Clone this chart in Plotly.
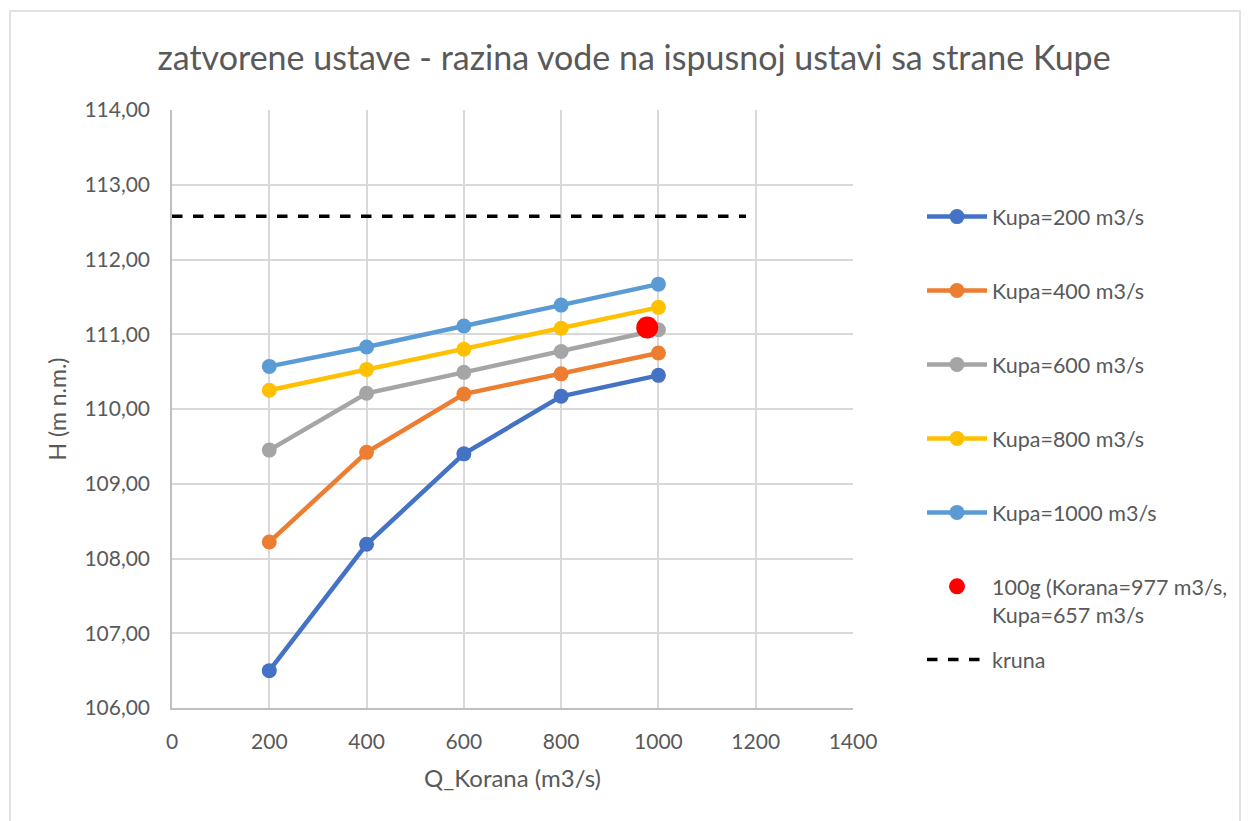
import plotly.graph_objects as go

# Q_Korana (m3/s) on the x axis
korana = [200, 400, 600, 800, 1000]

# water level H (m n.m.) for each Kupa discharge
kupa_200 = [106.50, 108.19, 109.40, 110.17, 110.45]
kupa_400 = [108.22, 109.42, 110.20, 110.47, 110.75]
kupa_600 = [109.45, 110.21, 110.49, 110.77, 111.06]
kupa_800 = [110.25, 110.53, 110.80, 111.08, 111.36]
kupa_1000 = [110.57, 110.83, 111.11, 111.39, 111.67]

series_names = ["Kupa=200 m3/s", "Kupa=400 m3/s", "Kupa=600 m3/s",
                "Kupa=800 m3/s", "Kupa=1000 m3/s"]
series_values = [kupa_200, kupa_400, kupa_600, kupa_800, kupa_1000]
colors = ["#4472C4", "#ED7D31", "#A5A5A5", "#FFC000", "#5B9BD5"]

# 100-year event
event_x = [977]
event_y = [111.09]
event_name = "100g (Korana=977 m3/s,<br>Kupa=657 m3/s"

# crest level
kruna_x = [0, 1180]
kruna_y = [112.58, 112.58]

FONT = "Lato"
GREY = "#595959"

# plot area in figure pixels (page is offset by the 8px body margin)
L, T, PW, PH = 164, 102, 681, 598

fig = go.Figure()
for i, (name, vals) in enumerate(zip(series_names, series_values)):
    fig.add_trace(go.Scatter(
        x=korana, y=vals, name=name, mode="lines+markers",
        line=dict(color=colors[i], width=4.5),
        marker=dict(color=colors[i], size=15),
        legendgroup=str(i),
    ))

fig.add_trace(go.Scatter(
    x=event_x, y=event_y, name=event_name, mode="markers",
    marker=dict(color="#FF0000", size=22),
    legendgroup="5",
))
fig.add_trace(go.Scatter(
    x=kruna_x, y=kruna_y, name="kruna", mode="lines",
    line=dict(color="black", width=3.5, dash="dash"),
    legend="legend2",
))

legend_font = dict(size=21.5, color=GREY, family=FONT)

fig.update_layout(
    width=1252, height=821,
    margin=dict(l=L, r=1252 - L - PW, t=T, b=821 - T - PH),
    paper_bgcolor="white", plot_bgcolor="white",
    separators=", ",
    font=dict(family=FONT, color=GREY, size=20),
    title=dict(
        text="zatvorene ustave - razina vode na ispusnoj ustavi sa strane Kupe",
        x=0.5, xanchor="center", y=1 - 50 / 821, yanchor="middle",
        font=dict(size=34, color=GREY, family=FONT),
    ),
    legend=dict(
        x=(914 - L) / PW, xanchor="left", y=0.856, yanchor="top",
        font=legend_font, valign="top", itemwidth=60,
        tracegroupgap=43, bgcolor="rgba(0,0,0,0)",
    ),
    legend2=dict(
        x=(914 - L) / PW, xanchor="left", y=0.1154, yanchor="top",
        font=legend_font, itemwidth=60, bgcolor="rgba(0,0,0,0)",
    ),
    xaxis=dict(
        range=[0, 1400], dtick=200, tick0=0, tickformat="d",
        showgrid=True, gridcolor="#d9d9d9", gridwidth=1.5,
        showline=True, linecolor="#bfbfbf", linewidth=1.5,
        zeroline=False, ticks="", ticklabelstandoff=14,
        tickfont=dict(size=21),
        title=dict(text="Q_Korana (m3/s)", font=dict(size=24, color=GREY), standoff=18),
    ),
    yaxis=dict(
        range=[106, 114], dtick=1, tickformat=".2f",
        showgrid=True, gridcolor="#d9d9d9", gridwidth=1.5,
        showline=True, linecolor="#bfbfbf", linewidth=1.5,
        zeroline=False, ticks="", ticklabelstandoff=16,
        tickfont=dict(size=21),
        title=dict(text="H (m n.m.)", font=dict(size=23, color=GREY), standoff=11),
    ),
    shapes=[dict(
        type="rect", xref="paper", yref="paper",
        x0=(2 - L) / PW, x1=(1232 - L) / PW,
        y0=-(821 - T - PH + 20) / PH, y1=(T + PH - 3) / PH,
        line=dict(color="#d9d9d9", width=1.5), fillcolor="rgba(0,0,0,0)",
        layer="below",
    )],
)

fig.write_html("out.html")
